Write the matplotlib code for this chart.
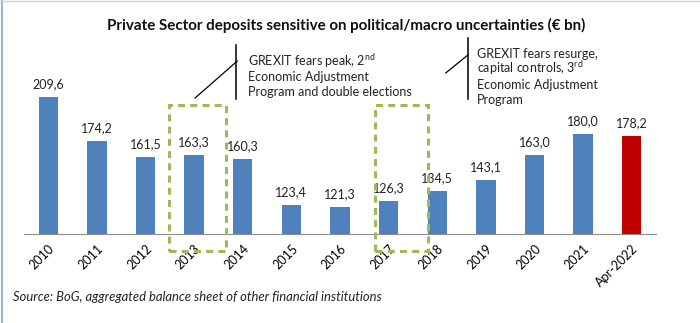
import matplotlib
matplotlib.use("Agg")
import matplotlib.pyplot as plt
from matplotlib.patches import Rectangle

plt.rcParams['font.family'] = ['Lato', 'DejaVu Sans']
plt.rcParams['mathtext.fontset'] = 'custom'
plt.rcParams['mathtext.rm'] = 'Lato'

# values (EUR bn)
labels = ["2010", "2011", "2012", "2013", "2014", "2015", "2016",
          "2017", "2018", "2019", "2020", "2021", "Apr-2022"]
deposits = [209.6, 174.2, 161.5, 163.3, 160.3, 123.4, 121.3,
            126.3, 134.5, 143.1, 163.0, 180.0, 178.2]
colors = ["#4F81BD"] * 12 + ["#C00000"]

note1 = ["GREXIT fears peak, 2$^{\\mathrm{nd}}$", "Economic Adjustment",
         "Program and double elections"]
note2 = ["GREXIT fears resurge,", "capital controls, 3$^{\\mathrm{rd}}$",
         "Economic Adjustment", "Program"]

fig = plt.figure(figsize=(7, 3.23), dpi=100)
ax = fig.add_axes([24 / 700, 89 / 323, 632 / 700, 187.5 / 323])

x = range(len(labels))
bars = ax.bar(x, deposits, width=0.4, color=colors)
ax.bar_label(bars, labels=[f"{v:.1f}".replace(".", ",") for v in deposits],
             padding=5, fontsize=9, color="#222222")

ax.set_xlim(-0.5, 12.5)
ax.set_ylim(100, 250)
ax.set_yticks([])
ax.set_xticks(list(x))
ax.set_xticklabels(labels, rotation=45, ha="right", rotation_mode="anchor", fontsize=9)
ax.tick_params(axis="x", length=0, pad=6)
for s in ["top", "right", "left"]:
    ax.spines[s].set_visible(False)
ax.spines["bottom"].set_color("#8c8c8c")

# dashed highlight boxes
green = "#9BBB59"
ax.add_patch(Rectangle((2.48, 86.4), 1.17, 116.8, fill=False, edgecolor=green,
                       linewidth=2.2, linestyle=(0, (2.3, 1.7)), clip_on=False, zorder=3))
ax.add_patch(Rectangle((6.73, 86.4), 1.09, 116.8, fill=False, edgecolor=green,
                       linewidth=2.2, linestyle=(0, (2.3, 1.7)), clip_on=False, zorder=3))

# callouts
ax.plot([3.866, 3.866], [208, 251.2], color="black", lw=1.1, clip_on=False)
ax.plot([3.02, 3.887], [208.8, 238.4], color="black", lw=0.9, clip_on=False)
for line, yb in zip(note1, [234.4, 222.4, 210.4]):
    ax.text(4.11, yb, line, fontsize=9, va="baseline", ha="left", color="#222222")

ax.plot([8.63, 8.63], [208, 256.8], color="black", lw=1.1, clip_on=False)
ax.plot([8.175, 8.63], [228.8, 243.2], color="black", lw=0.9, clip_on=False)
for line, yb in zip(note2, [240.8, 228.4, 216.0, 204.0]):
    ax.text(8.81, yb, line, fontsize=9, va="baseline", ha="left", color="#222222")

fig.text(107 / 700, 1 - 25 / 323, "Private Sector deposits sensitive on political/macro uncertainties (€ bn)",
         fontsize=10.9, fontweight="bold", va="center", ha="left", color="#111111")
fig.text(13 / 700, 1 - 297 / 323, "Source: BoG, aggregated balance sheet of other financial institutions",
         fontsize=9.4, style="italic", va="center", ha="left", color="#222222")

# thin frame at the top and left edges
fig.add_artist(plt.Line2D([0.003, 0.003], [0, 1], color="#9FB3C8", lw=1.5))
fig.add_artist(plt.Line2D([0, 1], [0.996, 0.996], color="#C9D3DD", lw=1))

fig.savefig("out.png", dpi=100)
